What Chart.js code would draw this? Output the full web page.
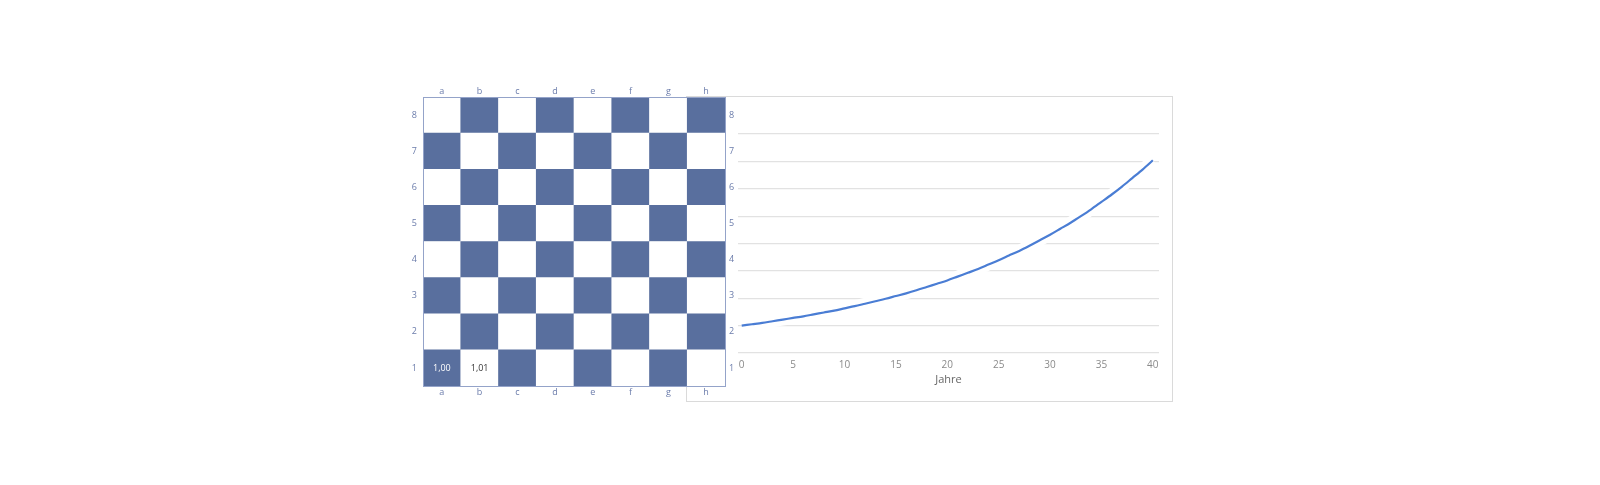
<!DOCTYPE html>
<html>
<head>
<meta charset="utf-8">
<script src="https://cdn.jsdelivr.net/npm/chart.js@4.4.1/dist/chart.umd.min.js"></script>
<style>
  html, body { margin: 0; padding: 0; background: #fff; }
  body { width: 1600px; height: 485px; position: relative; overflow: hidden; }
  #frame { position: absolute; left: 686px; top: 96px; width: 485px; height: 304px; border: 1px solid #dadada; }
  #lineWrap { position: absolute; left: 687px; top: 97px; width: 485px; height: 304px; }
  #boardWrap { position: absolute; left: 395px; top: 78px; width: 355px; height: 330px; }
</style>
</head>
<body>
<div id="frame"></div>
<div id="lineWrap"><canvas id="lineChart"></canvas></div>
<div id="boardWrap"><canvas id="board"></canvas></div>
<script>
// chessboard
const files = ['a', 'b', 'c', 'd', 'e', 'f', 'g', 'h'];
const ranks = ['1', '2', '3', '4', '5', '6', '7', '8'];
const cellTexts = [
  { file: 'a', rank: '1', text: '1,00' },
  { file: 'b', rank: '1', text: '1,01' }
];

// growth line
const years = [0,1,2,3,4,5,6,7,8,9,10,11,12,13,14,15,16,17,18,19,20,
  21,22,23,24,25,26,27,28,29,30,31,32,33,34,35,36,37,38,39,40];
const values = [1.00,1.05,1.10,1.16,1.22,1.28,1.34,1.41,1.48,1.55,1.63,
  1.71,1.80,1.89,1.98,2.08,2.18,2.29,2.41,2.53,2.65,
  2.79,2.93,3.07,3.23,3.39,3.56,3.73,3.92,4.12,4.32,
  4.54,4.76,5.00,5.25,5.52,5.79,6.08,6.39,6.70,7.04];
const xTicks = [0, 5, 10, 15, 20, 25, 30, 35, 40];

const dark = '#596f9e';
const labelColor = '#6b7cab';
const edge = '#94a3c9';

let rankTicks = () => ranks.map((r, i) => ({ value: i + 0.5 }));

let boardSets = ranks.map((r, ri) => ({
  label: r,
  data: files.map(() => 1),
  backgroundColor: files.map((f, fi) => (fi + ri) % 2 === 0 ? dark : '#ffffff'),
  borderWidth: 0,
  barPercentage: 1,
  categoryPercentage: 1
}));

const cellText = {
  id: 'cellText',
  afterDatasetsDraw(chart) {
    const ctx = chart.ctx;
    ctx.save();
    ctx.font = '9px "Open Sans"';
    ctx.textAlign = 'center';
    ctx.textBaseline = 'middle';
    cellTexts.forEach(c => {
      const ri = ranks.indexOf(c.rank), fi = files.indexOf(c.file);
      const bar = chart.getDatasetMeta(ri).data[fi];
      ctx.fillStyle = (fi + ri) % 2 === 0 ? '#ffffff' : '#333333';
      ctx.fillText(c.text, bar.x, (bar.y + bar.base) / 2);
    });
    ctx.restore();
  }
};

const axisFont = { family: '"Open Sans"', size: 9 };
const boardBorder = { display: true, color: edge, z: 1 };
const noGrid = { display: false, drawTicks: false };

new Chart(document.getElementById('board'), {
  type: 'bar',
  data: { labels: files, datasets: boardSets },
  plugins: [cellText],
  options: {
    responsive: true,
    maintainAspectRatio: false,
    animation: false,
    layout: { padding: 0 },
    plugins: { legend: { display: false }, tooltip: { enabled: false } },
    scales: {
      x: {
        stacked: true, position: 'bottom',
        grid: noGrid, border: boardBorder,
        ticks: { color: labelColor, font: axisFont, padding: 1 },
        afterFit: s => { s.height = 22; }
      },
      x2: {
        type: 'category', labels: files, position: 'top',
        grid: noGrid, border: boardBorder,
        ticks: { color: labelColor, font: axisFont, padding: 0 },
        afterFit: s => { s.height = 19; }
      },
      y: {
        stacked: true, min: 0, max: 8, position: 'left',
        grid: noGrid, border: boardBorder,
        afterBuildTicks: s => { s.ticks = rankTicks(); },
        ticks: { color: labelColor, font: axisFont, padding: 6, callback: (v, i) => ranks[i] },
        afterFit: s => { s.width = 28; }
      },
      y2: {
        min: 0, max: 8, position: 'right',
        grid: noGrid, border: boardBorder,
        afterBuildTicks: s => { s.ticks = rankTicks(); },
        ticks: { color: labelColor, font: axisFont, padding: 4, callback: (v, i) => ranks[i] },
        afterFit: s => { s.width = 25; }
      }
    }
  }
});

let points = years.map((y, i) => ({ x: y, y: values[i] }));

new Chart(document.getElementById('lineChart'), {
  type: 'line',
  data: {
    datasets: [
      {
        data: points, borderColor: '#4a7dd4', borderWidth: 2.2,
        pointRadius: 0, tension: 0.3, order: 1
      },
      {
        data: points, borderColor: '#ffffff', borderWidth: 12,
        pointRadius: 0, tension: 0.3, order: 2
      }
    ]
  },
  options: {
    responsive: true,
    maintainAspectRatio: false,
    animation: false,
    layout: { padding: { left: 51, right: 13, top: 37, bottom: 0 } },
    plugins: { legend: { display: false }, tooltip: { enabled: false } },
    scales: {
      x: {
        type: 'linear', min: -0.36, max: 40.6,
        afterBuildTicks: s => { s.ticks = xTicks.map(v => ({ value: v })); },
        grid: { display: false, drawTicks: false },
        border: { display: false },
        ticks: { color: '#8a8a8a', font: { family: '"Open Sans"', size: 10 }, padding: 6, maxRotation: 0 },
        title: { display: true, text: 'Jahre', color: '#666666', font: { family: '"Open Sans"', size: 11 }, padding: { top: 0, bottom: 15 } },
        afterFit: s => { s.height = 48; }
      },
      y: {
        min: 0, max: 8,
        ticks: { display: false, stepSize: 1 },
        grid: { color: '#e2e2e2', lineWidth: 1.2, drawTicks: false },
        border: { display: false },
        afterFit: s => { s.width = 0; }
      }
    }
  }
});
</script>
</body>
</html>
